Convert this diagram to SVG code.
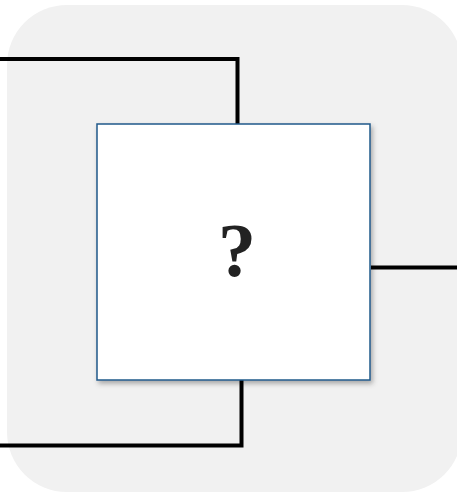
<svg xmlns="http://www.w3.org/2000/svg" width="457" height="493" viewBox="0 0 457 493">
  <defs>
    <filter id="shadow" x="-10%" y="-10%" width="130%" height="130%">
      <feDropShadow dx="2" dy="3" stdDeviation="2.5" flood-color="#000" flood-opacity="0.3"/>
    </filter>
    <style>
      .bg { fill: #f1f1f1; }
      .conn { fill: none; stroke: #000; stroke-width: 4; stroke-linejoin: miter; }
      .box { fill: #ffffff; stroke: #1f5a8a; stroke-width: 1.5; }
      .q { font-family: "Liberation Serif", "Times New Roman", serif; font-weight: bold; font-size: 76px; fill: #222; text-anchor: middle; }
    </style>
  </defs>
  <rect class="bg" x="7" y="5" width="455" height="487" rx="60" ry="60"/>
  <g id="connectors">
    <polyline class="conn" points="0,59 237.5,59 237.5,124"/>
    <polyline class="conn" points="371,267.5 457,267.5"/>
    <polyline class="conn" points="241.5,380 241.5,445.5 0,445.5"/>
  </g>
  <g id="node-unknown">
    <rect class="box" x="97" y="124" width="273" height="256" filter="url(#shadow)"/>
    <text class="q" x="237" y="276">?</text>
  </g>
</svg>
